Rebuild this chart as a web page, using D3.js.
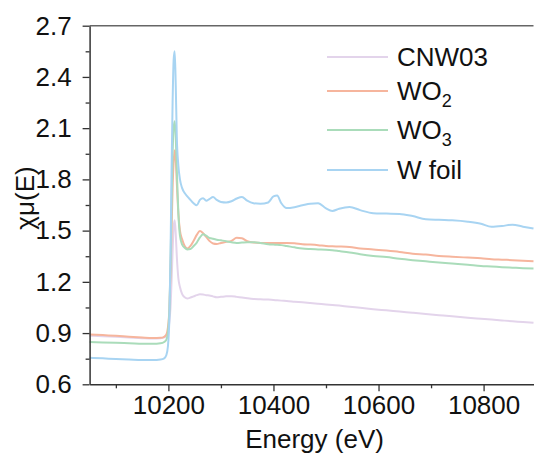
<!DOCTYPE html>
<html>
<head>
<meta charset="utf-8">
<script src="https://cdn.jsdelivr.net/npm/d3@7"></script>
<style>
  html, body { margin: 0; padding: 0; background: #fff; }
  svg { display: block; }
  text { font-family: "Liberation Sans", Arial, sans-serif; fill: #111; }
</style>
</head>
<body>
<div id="chart"></div>
<script>
// ---------- data ----------
const energy = [10050,10075,10100,10125,10150,10170,10185,10192,10196,10199,10202,10204,10206,10208,10210,10212,10214,10216,10219,10222,10226,10231,10236,10242,10248,10254,10260,10266,10272,10278,10285,10292,10300,10310,10320,10330,10340,10350,10362,10375,10390,10400,10407,10415,10425,10440,10455,10470,10485,10500,10512,10525,10545,10565,10590,10615,10640,10665,10690,10715,10740,10770,10795,10815,10835,10855,10875,10895];

const cnw03 = [0.885,0.882,0.878,0.874,0.870,0.868,0.870,0.875,0.885,0.910,0.970,1.050,1.200,1.380,1.520,1.560,1.480,1.350,1.220,1.170,1.130,1.110,1.103,1.108,1.115,1.122,1.127,1.126,1.122,1.120,1.115,1.110,1.112,1.115,1.116,1.112,1.108,1.104,1.100,1.098,1.096,1.094,1.092,1.090,1.088,1.084,1.080,1.076,1.072,1.068,1.065,1.061,1.054,1.048,1.040,1.033,1.026,1.019,1.012,1.005,0.998,0.990,0.984,0.979,0.974,0.969,0.965,0.960];

const wo2 = [0.892,0.888,0.884,0.879,0.874,0.871,0.872,0.878,0.890,0.930,1.050,1.250,1.500,1.750,1.900,1.970,1.920,1.780,1.600,1.500,1.450,1.410,1.395,1.410,1.440,1.475,1.498,1.485,1.463,1.440,1.425,1.422,1.428,1.434,1.440,1.458,1.455,1.438,1.430,1.428,1.428,1.427,1.427,1.428,1.428,1.426,1.420,1.418,1.415,1.410,1.408,1.407,1.404,1.395,1.390,1.383,1.375,1.365,1.360,1.352,1.347,1.342,1.338,1.333,1.330,1.327,1.323,1.320];

const wo3 = [0.847,0.845,0.843,0.841,0.838,0.837,0.840,0.848,0.860,0.900,1.050,1.300,1.650,1.950,2.100,2.140,2.050,1.850,1.600,1.470,1.420,1.400,1.390,1.392,1.410,1.430,1.460,1.478,1.470,1.458,1.452,1.447,1.443,1.438,1.432,1.428,1.430,1.432,1.432,1.428,1.420,1.418,1.417,1.415,1.410,1.402,1.395,1.392,1.390,1.388,1.385,1.380,1.372,1.362,1.352,1.345,1.335,1.327,1.320,1.313,1.307,1.300,1.293,1.290,1.286,1.283,1.280,1.278];

const wfoil = [0.755,0.752,0.748,0.745,0.742,0.742,0.745,0.752,0.770,0.820,1.000,1.350,1.850,2.250,2.500,2.550,2.350,2.050,1.880,1.800,1.750,1.720,1.700,1.680,1.660,1.648,1.680,1.690,1.675,1.685,1.697,1.680,1.668,1.665,1.672,1.688,1.697,1.675,1.660,1.657,1.665,1.700,1.705,1.660,1.632,1.637,1.648,1.658,1.660,1.630,1.615,1.628,1.638,1.620,1.602,1.600,1.598,1.585,1.567,1.563,1.560,1.552,1.540,1.523,1.527,1.535,1.523,1.512];

const seriesNames = ["CNW03", "WO", "WO", "W foil"];
const seriesSubs = ["", "2", "3", ""];
const seriesValues = [cnw03, wo2, wo3, wfoil];
const seriesColors = ["#e3d4eb", "#f6b59d", "#aadcba", "#a8d4f2"];

const xTicks = [10200, 10400, 10600, 10800];
const xMinor = [10100, 10300, 10500, 10700];
const yTicks = [0.6, 0.9, 1.2, 1.5, 1.8, 2.1, 2.4, 2.7];
const yMinor = [0.75, 1.05, 1.35, 1.65, 1.95, 2.25, 2.55];

// ---------- layout ----------
const W = 534, H = 454;
const mLeft = 89.6, mRight = 533.5, mTop = 25.7, mBottom = 384.3;

const svg = d3.select("#chart").append("svg").attr("width", W).attr("height", H);

const x = d3.scaleLinear().domain([10050, 10895]).range([mLeft, mRight]);
const y = d3.scaleLinear().domain([0.6, 2.7]).range([mBottom, mTop]);

// lines
const line = d3.line().x(d => x(d[0])).y(d => y(d[1])).curve(d3.curveMonotoneX);
const plot = svg.append("g");
seriesValues.forEach((vals, i) => {
  plot.append("path")
    .datum(energy.map((e, k) => [e, vals[k]]))
    .attr("fill", "none")
    .attr("stroke", seriesColors[i])
    .attr("stroke-width", 2)
    .attr("stroke-linejoin", "round")
    .attr("d", line);
});

// top border
svg.append("line").attr("x1", mLeft).attr("x2", mRight).attr("y1", mTop).attr("y2", mTop)
  .attr("stroke", "#666").attr("stroke-width", 1.6);

// x axis
svg.append("g").attr("transform", `translate(0,${mBottom})`)
  .call(d3.axisBottom(x).tickValues(xTicks).tickFormat(d3.format("d")).tickSize(7).tickPadding(4).tickSizeOuter(0));
svg.append("g").attr("transform", `translate(0,${mBottom})`)
  .call(d3.axisBottom(x).tickValues(xMinor).tickFormat("").tickSize(4).tickSizeOuter(0))
  .select(".domain").remove();

// y axis
svg.append("g").attr("transform", `translate(${mLeft},0)`)
  .call(d3.axisLeft(y).tickValues(yTicks).tickFormat(d3.format(".1f")).tickSize(7).tickPadding(11).tickSizeOuter(0));
svg.append("g").attr("transform", `translate(${mLeft},0)`)
  .call(d3.axisLeft(y).tickValues(yMinor).tickFormat("").tickSize(4).tickSizeOuter(0))
  .select(".domain").remove();

svg.selectAll(".domain").attr("stroke", "#333").attr("stroke-width", 1.5);
svg.selectAll(".tick line").attr("stroke", "#333").attr("stroke-width", 1.3);
svg.selectAll(".tick text")
  .style("font-family", "'Liberation Sans', Arial, sans-serif")
  .style("font-size", "26px").attr("fill", "#111");

// axis titles
svg.append("text").attr("x", (mLeft + mRight) / 2 + 3).attr("y", 448)
  .attr("text-anchor", "middle").style("font-size", "26px").text("Energy (eV)");
svg.append("text").attr("transform", "translate(34,198) rotate(-90)")
  .attr("text-anchor", "middle").style("font-size", "26px").text("χμ(E)");

// legend
const legY = [57, 91, 130, 170];
const leg = svg.append("g");
seriesNames.forEach((name, i) => {
  leg.append("line").attr("x1", 327).attr("x2", 388).attr("y1", legY[i]).attr("y2", legY[i])
    .attr("stroke", seriesColors[i]).attr("stroke-width", 2);
  const t = leg.append("text").attr("x", 397).attr("y", legY[i] + 9).style("font-size", "26px");
  t.append("tspan").text(name);
  if (seriesSubs[i]) {
    t.append("tspan").attr("dy", 7).style("font-size", "18px").text(seriesSubs[i]);
  }
});
</script>
</body>
</html>
